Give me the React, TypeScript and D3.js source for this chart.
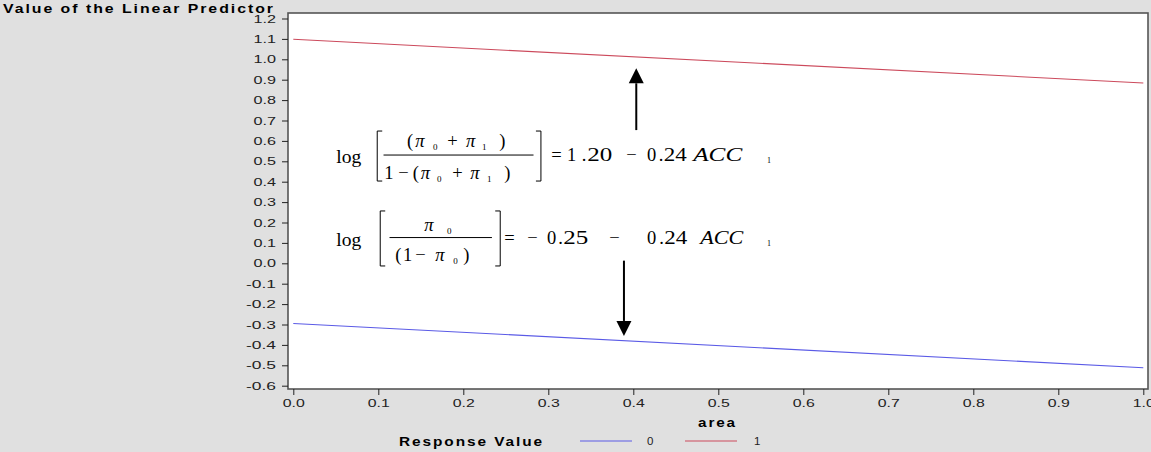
import { useEffect, useRef } from 'react';
import * as d3 from 'd3';

// area values at the ends of the fitted lines
const areaValues = [0.0, 1.0];
// linear predictor for each response value
const response0 = [-0.295, -0.512];
const response1 = [1.098, 0.884];

const responseLevels = ['0', '1'];
const responseColors = ['#5a5ae6', '#cc4a5c'];

const xTicks = [0, 0.1, 0.2, 0.3, 0.4, 0.5, 0.6, 0.7, 0.8, 0.9, 1.0];
const yTicks = [-0.6, -0.5, -0.4, -0.3, -0.2, -0.1, 0, 0.1, 0.2, 0.3, 0.4, 0.5, 0.6, 0.7, 0.8, 0.9, 1.0, 1.1, 1.2];

type Tok = { t: string; x: number; y: number; size?: number; it?: boolean; len?: number };

const eqTop: Tok[] = [
  { t: 'log', x: 0, y: 0, len: 25 },
  { t: '(', x: 70.7, y: -16 },
  { t: 'π', x: 79, y: -16, it: true },
  { t: '0', x: 96.7, y: -13, size: 9 },
  { t: '+', x: 111, y: -16 },
  { t: 'π', x: 129.7, y: -16, it: true },
  { t: '1', x: 145.7, y: -13, size: 9 },
  { t: ')', x: 163, y: -16 },
  { t: '1', x: 48, y: 15.3 },
  { t: '−', x: 62, y: 15.3 },
  { t: '(', x: 76.5, y: 15.3 },
  { t: 'π', x: 84.5, y: 15.3, it: true },
  { t: '0', x: 100.7, y: 18.3, size: 9 },
  { t: '+', x: 116, y: 15.3 },
  { t: 'π', x: 134, y: 15.3, it: true },
  { t: '1', x: 150.7, y: 18.3, size: 9 },
  { t: ')', x: 168, y: 15.3 },
  { t: '=', x: 215, y: -2.3 },
  { t: '1', x: 230.7, y: -2.3 },
  { t: '.', x: 245.5, y: -2.3 },
  { t: '20', x: 251, y: -2.3, len: 25 },
  { t: '−', x: 290, y: -2.3 },
  { t: '0', x: 310.7, y: -2.3 },
  { t: '.', x: 322.5, y: -2.3 },
  { t: '24', x: 327.5, y: -2.3, len: 23 },
  { t: 'ACC', x: 357, y: -2.3, it: true, len: 49 },
  { t: '1', x: 430.7, y: 0, size: 8 },
];

const eqBottom: Tok[] = [
  { t: 'log', x: 0, y: 0, len: 25 },
  { t: 'π', x: 88, y: -15, it: true },
  { t: '0', x: 110.7, y: -12, size: 9 },
  { t: '(', x: 59, y: 15 },
  { t: '1', x: 66.7, y: 15 },
  { t: '−', x: 79, y: 15 },
  { t: 'π', x: 99, y: 15, it: true },
  { t: '0', x: 117, y: 18, size: 9 },
  { t: ')', x: 127, y: 15 },
  { t: '=', x: 168, y: -1.7 },
  { t: '−', x: 191, y: -1.7 },
  { t: '0', x: 210.7, y: -1.7 },
  { t: '.', x: 222, y: -1.7 },
  { t: '25', x: 227, y: -1.7, len: 25 },
  { t: '−', x: 273, y: -1.7 },
  { t: '0', x: 310.7, y: -1.7 },
  { t: '.', x: 323, y: -1.7 },
  { t: '24', x: 328, y: -1.7, len: 23 },
  { t: 'ACC', x: 364, y: -1.7, it: true, len: 43 },
  { t: '1', x: 430.7, y: 0, size: 8 },
];

const W = 1151;
const H = 452;
const sans = '"Liberation Sans", Arial, sans-serif';
const serif = '"Liberation Serif", "Times New Roman", serif';

const fmt = (v: number) => (Math.abs(v) < 1e-9 ? '0.0' : v.toFixed(1));

export default function App() {
  const ref = useRef<SVGSVGElement>(null);

  useEffect(() => {
    if (!ref.current) return;
    const svg = d3.select(ref.current);
    svg.selectAll('*').remove();

    const frame = { left: 288, top: 13, right: 1148, bottom: 389 };
    const x = d3.scaleLinear().domain([0, 1]).range([293.3, 1143.3]);
    const y = d3.scaleLinear().domain([-0.6, 1.2]).range([385.7, 18.5]);

    svg.append('rect').attr('width', W).attr('height', H).attr('fill', '#e0e0e0');
    svg.append('rect')
      .attr('x', frame.left).attr('y', frame.top)
      .attr('width', frame.right - frame.left).attr('height', frame.bottom - frame.top)
      .attr('fill', '#fff');

    // fitted lines
    const line = d3.line<number>()
      .x((_, i) => x(areaValues[i]))
      .y((d) => y(d));
    [response0, response1].forEach((s, i) => {
      svg.append('path')
        .datum(s)
        .attr('d', line)
        .attr('fill', 'none')
        .attr('stroke', responseColors[i])
        .attr('stroke-width', 1.1);
    });

    // frame
    svg.append('rect')
      .attr('x', frame.left).attr('y', frame.top)
      .attr('width', frame.right - frame.left).attr('height', frame.bottom - frame.top)
      .attr('fill', 'none').attr('stroke', '#555').attr('stroke-width', 1.6);

    // y axis
    const yMinor = d3.range(-30, 61).filter((i) => i % 5 !== 0).map((i) => i / 50);
    const yAx = svg.append('g').attr('transform', `translate(${frame.left},0)`);
    yAx.call(d3.axisLeft(y).tickValues(yMinor).tickSize(3).tickFormat(() => ''));
    yAx.call(d3.axisLeft(y).tickValues(yTicks).tickSize(6).tickFormat((d) => fmt(d as number)));
    yAx.selectAll('.domain').remove();
    yAx.selectAll('line').attr('stroke', '#222');
    yAx.selectAll('text')
      .attr('x', -12)
      .attr('font-family', sans)
      .attr('font-size', 11.5)
      .attr('fill', '#222')
      .attr('textLength', (d) => (fmt(d as number).length > 3 ? 30 : 22.5))
      .attr('lengthAdjust', 'spacingAndGlyphs');

    // x axis
    const xMinor = d3.range(0, 51).filter((i) => i % 5 !== 0).map((i) => i / 50);
    const xAx = svg.append('g').attr('transform', `translate(0,${frame.bottom})`);
    xAx.call(d3.axisBottom(x).tickValues(xMinor).tickSize(3).tickFormat(() => ''));
    xAx.call(d3.axisBottom(x).tickValues(xTicks).tickSize(6).tickFormat((d) => fmt(d as number)));
    xAx.selectAll('.domain').remove();
    xAx.selectAll('line').attr('stroke', '#222');
    xAx.selectAll('text')
      .attr('y', 10)
      .attr('font-family', sans)
      .attr('font-size', 11.5)
      .attr('fill', '#222')
      .attr('textLength', 22)
      .attr('lengthAdjust', 'spacingAndGlyphs');

    // titles
    const bold = (tx: number, ty: number, len: number, s: string) =>
      svg.append('text')
        .attr('x', tx).attr('y', ty)
        .attr('font-family', sans).attr('font-weight', 'bold').attr('font-size', 12)
        .attr('letter-spacing', 1.5)
        .attr('textLength', len).attr('lengthAdjust', 'spacingAndGlyphs')
        .text(s);
    bold(3, 13, 272, 'Value of the Linear Predictor');
    bold(698, 427, 39, 'area');
    bold(399, 446, 145, 'Response Value');

    // legend
    responseLevels.forEach((lvl, i) => {
      const lx = 580 + i * 105;
      svg.append('line')
        .attr('x1', lx).attr('x2', lx + 52).attr('y1', 441).attr('y2', 441)
        .attr('stroke', responseColors[i]).attr('stroke-width', 1.1);
      svg.append('text')
        .attr('x', lx + 67 + i * 2).attr('y', 445)
        .attr('font-family', sans).attr('font-size', 11.5).attr('fill', '#222')
        .text(lvl);
    });

    // arrows
    const arrow = (ax: number, from: number, to: number) => {
      const px = x(ax);
      const y0 = y(from);
      const y1 = y(to);
      const dir = y1 < y0 ? 1 : -1;
      const hl = 15;
      svg.append('line')
        .attr('x1', px).attr('x2', px).attr('y1', y0).attr('y2', y1 + dir * hl)
        .attr('stroke', '#000').attr('stroke-width', 2);
      svg.append('path')
        .attr('d', `M${px},${y1}L${px - 7.5},${y1 + dir * hl}L${px + 7.5},${y1 + dir * hl}Z`)
        .attr('fill', '#000');
    };
    arrow(0.4035, 0.653, 0.956);
    arrow(0.389, 0.013, -0.356);

    // equations
    const drawEq = (ax: number, ay: number, toks: Tok[], br: [number, number, number, number], frac: [number, number, number]) => {
      const g = svg.append('g').attr('transform', `translate(${x(ax)},${y(ay)})`);
      toks.forEach((tk) => {
        const t = g.append('text')
          .attr('x', tk.x).attr('y', tk.y)
          .attr('font-family', serif)
          .attr('font-size', tk.size ?? 18.5)
          .attr('font-style', tk.it ? 'italic' : 'normal')
          .attr('fill', '#000')
          .text(tk.t);
        if (tk.len) t.attr('textLength', tk.len).attr('lengthAdjust', 'spacingAndGlyphs');
      });
      const [bl, brr, bt, bb] = br;
      g.append('path')
        .attr('d', `M${bl + 5},${bt}H${bl}V${bb}H${bl + 5}M${brr - 5},${bt}H${brr}V${bb}H${brr - 5}`)
        .attr('fill', 'none').attr('stroke', '#000').attr('stroke-width', 1);
      g.append('line')
        .attr('x1', frac[0]).attr('x2', frac[1]).attr('y1', frac[2]).attr('y2', frac[2])
        .attr('stroke', '#000').attr('stroke-width', 1);
    };
    drawEq(0.0505, 0.49, eqTop, [41, 204.7, -32.3, 17.7], [47.3, 197.3, -8.3]);
    drawEq(0.0505, 0.085, eqBottom, [44, 164, -35, 20], [53.3, 155.7, -8.4]);
  }, []);

  return (
    <div style={{ position: 'fixed', left: 0, top: 0 }}>
      <svg ref={ref} width={W} height={H} viewBox={`0 0 ${W} ${H}`} style={{ display: 'block' }} />
    </div>
  );
}
